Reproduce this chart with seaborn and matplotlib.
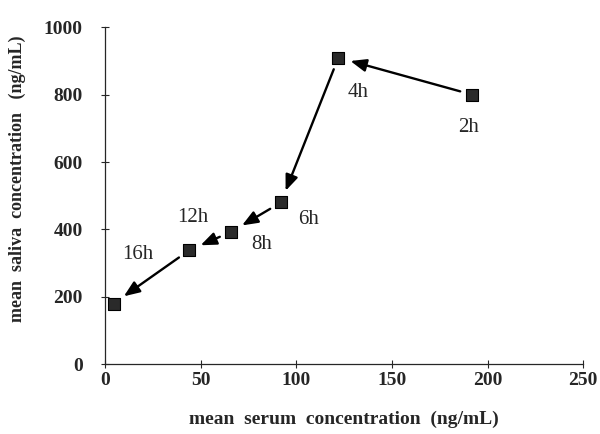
import numpy as np
import pandas as pd
import seaborn as sns
import matplotlib
matplotlib.use("Agg")
import matplotlib.pyplot as plt

# mean values
hours = ["2h", "4h", "6h", "8h", "12h", "16h"]
serum = [192, 122, 92, 66, 44, 4.5]
saliva = [800, 910, 480, 393, 338, 180]

# label offsets in pixels (dx, dy) from each point
label_off = {"2h": (-4, -33), "4h": (20, -35), "6h": (28, -17),
             "8h": (30, -13), "12h": (4, 33), "16h": (24, 49)}

df = pd.DataFrame({"serum": serum, "saliva": saliva, "time": hours})

sns.set_style("ticks")
plt.rcParams["font.family"] = ["Liberation Serif", "DejaVu Serif"]

fig = plt.figure(figsize=(6, 4.34), dpi=100)
ax = fig.add_axes([0.175, 0.161, 0.797, 0.776])

# arrows between consecutive time points
for i in range(len(df) - 1):
    ax.annotate("", xy=(df.serum[i + 1], df.saliva[i + 1]),
                xytext=(df.serum[i], df.saliva[i]),
                arrowprops=dict(arrowstyle="-|>,head_length=0.95,head_width=0.38",
                                color="black", lw=1.7,
                                shrinkA=9, shrinkB=9))

sns.scatterplot(data=df, x="serum", y="saliva", marker="s", s=85,
                color="#2a2a2a", edgecolor="black", linewidth=0.8,
                ax=ax, zorder=5, legend=False)

for x, y, t in zip(df.serum, df.saliva, df.time):
    dx, dy = label_off[t]
    ax.annotate(t, (x, y), xytext=(dx, dy), textcoords="offset pixels",
                ha="center", va="center", fontsize=15)

ax.set_xlim(0, 250)
ax.set_ylim(0, 1000)
ax.set_xticks([0, 50, 100, 150, 200, 250])
ax.set_yticks([0, 200, 400, 600, 800, 1000])
ax.tick_params(direction="inout", length=6, width=0.8, labelsize=14)
ax.tick_params(axis="y", pad=13)
ax.tick_params(axis="x", pad=3)
for lab in ax.get_xticklabels() + ax.get_yticklabels():
    lab.set_fontweight("bold")
sns.despine(ax=ax)
for s in ["left", "bottom"]:
    ax.spines[s].set_linewidth(0.9)

ax.set_xlabel("mean  serum  concentration  (ng/mL)", fontsize=14,
              fontweight="bold", labelpad=15)
ax.set_ylabel("mean  saliva  concentration   (ng/mL)", fontsize=13,
              fontweight="bold")
ax.yaxis.set_label_coords(-0.165, 0.55)

fig.savefig("out.png", dpi=100)
